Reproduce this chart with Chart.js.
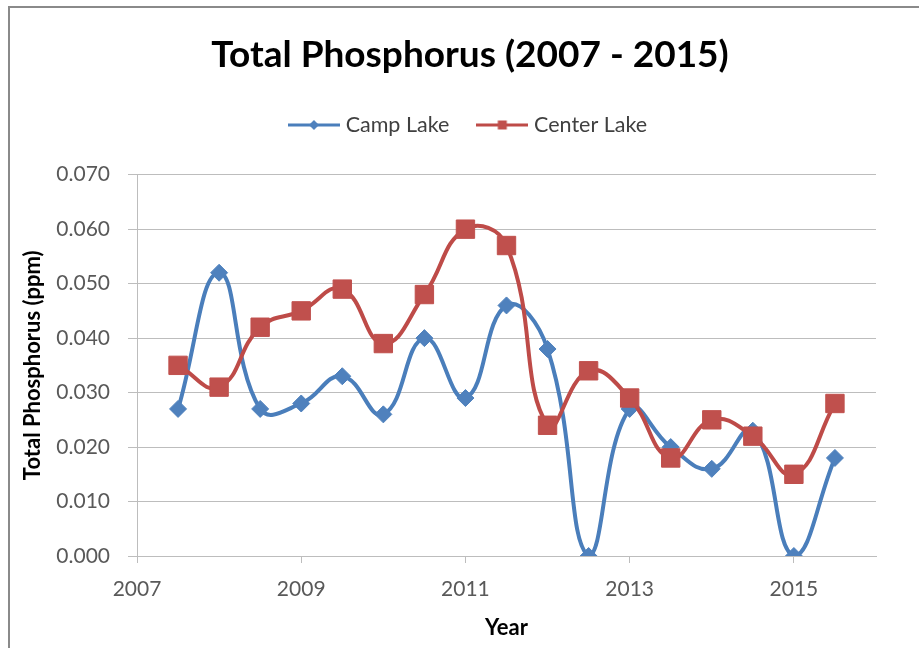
<!DOCTYPE html>
<html>
<head>
<meta charset="utf-8">
<script src="https://cdn.jsdelivr.net/npm/chart.js@4.4.1/dist/chart.umd.min.js"></script>
<style>
  html, body { margin: 0; padding: 0; background: #fff; overflow: hidden; }
  #marco {
    position: absolute; left: 8px; top: 6px;
    width: 920px; height: 640px;
    border-top: 2px solid #8a8a8a; border-left: 2px solid #8a8a8a;
    background: #fff;
  }
</style>
</head>
<body>
<div id="marco"><canvas id="chTP" width="920" height="640"></canvas></div>
<script>
// Datos (ppm)
const anios = [2007.5, 2008, 2008.5, 2009, 2009.5, 2010, 2010.5, 2011, 2011.5, 2012, 2012.5, 2013, 2013.5, 2014, 2014.5, 2015, 2015.5];
const campLake = [0.027, 0.052, 0.027, 0.028, 0.033, 0.026, 0.040, 0.029, 0.046, 0.038, 0.000, 0.027, 0.020, 0.016, 0.023, 0.000, 0.018];
const centerLake = [0.035, 0.031, 0.042, 0.045, 0.049, 0.039, 0.048, 0.060, 0.057, 0.024, 0.034, 0.029, 0.018, 0.025, 0.022, 0.015, 0.028];
const ticksX = [2007, 2009, 2011, 2013, 2015];

const AZUL = "#4A7EBB", AZUL_PUNTO = "#4F81BD";
const ROJO = "#BE4B48", ROJO_PUNTO = "#C0504D";
const GRIS = "#bdbdbd";
const FUENTE = "Lato, 'Open Sans', sans-serif";

const puntos = serie => serie.map((v, i) => ({ x: anios[i], y: v }));

/** Icono de leyenda estilo Excel: linea con el marcador al centro. */
function iconoLeyenda(color, relleno, forma) {
  const c = document.createElement("canvas");
  c.width = 52; c.height = 14;
  const g = c.getContext("2d");
  g.strokeStyle = color; g.lineWidth = 3;
  g.beginPath(); g.moveTo(0, 7); g.lineTo(52, 7); g.stroke();
  g.fillStyle = relleno;
  g.beginPath();
  if (forma === "diamante") {
    g.moveTo(26, 2); g.lineTo(31, 7); g.lineTo(26, 12); g.lineTo(21, 7);
  } else {
    g.rect(21.5, 2.5, 9, 9);
  }
  g.closePath(); g.fill();
  return c;
}

const iconos = [iconoLeyenda(AZUL, AZUL_PUNTO, "diamante"), iconoLeyenda(ROJO, ROJO_PUNTO, "cuadro")];

new Chart(document.getElementById("chTP"), {
  type: "line",
  data: {
    datasets: [
      {
        label: "Camp Lake",
        data: puntos(campLake),
        borderColor: AZUL,
        backgroundColor: AZUL_PUNTO,
        borderWidth: 4,
        pointStyle: "rectRot",
        pointRadius: 8.5,
        pointBorderWidth: 1,
        pointBorderColor: AZUL_PUNTO,
        tension: 0.45,
        order: 1,
      },
      {
        label: "Center Lake",
        data: puntos(centerLake),
        borderColor: ROJO,
        backgroundColor: ROJO_PUNTO,
        borderWidth: 4,
        pointStyle: "rect",
        pointRadius: 13,
        pointBorderWidth: 1,
        pointBorderColor: ROJO_PUNTO,
        tension: 0.45,
        order: 0,
      },
    ],
  },
  options: {
    responsive: false,
    animation: false,
    layout: { padding: 0 },
    plugins: {
      title: {
        display: true,
        text: "Total Phosphorus (2007 - 2015)",
        color: "#000",
        font: { family: FUENTE, size: 37, weight: "bold" },
        padding: { top: 24.8, bottom: 5 },
      },
      // espaciador entre la leyenda y el area de la grafica
      subtitle: {
        display: true,
        text: "",
        weight: 500,
        font: { size: 1, lineHeight: 1 },
        padding: { top: 28, bottom: 0 },
      },
      legend: {
        position: "top",
        labels: {
          usePointStyle: true,
          pointStyleWidth: 42,
          padding: 32,
          color: "#404040",
          font: { family: FUENTE, size: 21.5 },
          generateLabels: chart => chart.data.datasets.map((ds, i) => ({
            text: ds.label,
            pointStyle: iconos[i],
            datasetIndex: i,
            hidden: false,
            fontColor: "#404040",
            lineWidth: 0,
            strokeStyle: "transparent",
            fillStyle: "transparent",
          })),
        },
      },
      tooltip: { enabled: false },
    },
    scales: {
      x: {
        type: "linear",
        min: 2007,
        max: 2016,
        afterBuildTicks: s => { s.ticks = ticksX.map(v => ({ value: v })); },
        afterFit: s => { s.height = 92; },
        grid: { display: true, drawOnChartArea: false, drawTicks: true, tickLength: 7, color: GRIS },
        border: { display: true, color: GRIS },
        ticks: {
          padding: 14,
          color: "#595959",
          font: { family: FUENTE, size: 21 },
          callback: v => String(v),
        },
        title: {
          display: true,
          text: "Year",
          color: "#000",
          font: { family: FUENTE, size: 22, weight: "bold" },
          padding: { top: 0, bottom: 6.8 },
        },
      },
      y: {
        min: 0,
        max: 0.07,
        afterFit: s => { s.width = 127; },
        grid: { color: GRIS, tickLength: 9 },
        border: { display: true, color: GRIS },
        ticks: {
          stepSize: 0.01,
          padding: 18,
          color: "#595959",
          font: { family: FUENTE, size: 21 },
          callback: v => v.toFixed(3),
        },
        title: {
          display: true,
          text: "Total Phosphorus (ppm)",
          color: "#000",
          font: { family: FUENTE, size: 22, weight: "bold" },
          padding: { top: 9.8, bottom: 0 },
        },
      },
      // eje derecho vacio: solo reserva el margen derecho del area de trazado
      yDer: {
        position: "right",
        display: true,
        afterFit: s => { s.width = 54; },
        grid: { display: false },
        border: { display: false },
        ticks: { display: false },
      },
    },
  },
});
</script>
</body>
</html>
